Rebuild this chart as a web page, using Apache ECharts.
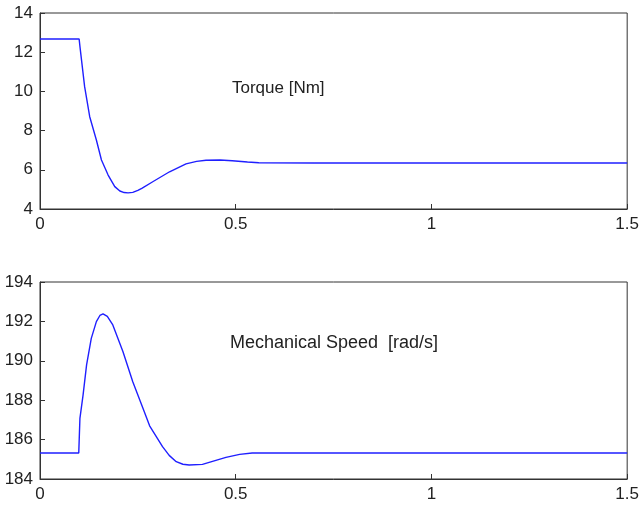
<!DOCTYPE html>
<html>
<head>
<meta charset="utf-8">
<script src="https://cdn.jsdelivr.net/npm/echarts@6/dist/echarts.min.js"></script>
<style>
html, body { margin: 0; padding: 0; background: #fff; }
#main { width: 642px; height: 505px; }
</style>
</head>
<body>
<div id="main"></div>
<script>
// torque response (time s, value Nm)
var torqueT = [0, 0.1, 0.102, 0.114, 0.127, 0.144, 0.157, 0.174, 0.191, 0.204, 0.215, 0.225, 0.237, 0.25, 0.26, 0.288, 0.331, 0.373, 0.4, 0.424, 0.46, 0.491, 0.53, 0.559, 0.7, 1.0, 1.5];
var torqueV = [12.67, 12.67, 12.3, 10.24, 8.71, 7.52, 6.5, 5.73, 5.14, 4.92, 4.84, 4.82, 4.85, 4.95, 5.05, 5.39, 5.9, 6.3, 6.43, 6.49, 6.5, 6.46, 6.4, 6.36, 6.35, 6.35, 6.35];

// mechanical speed (time s, value rad/s)
var speedT = [0, 0.099, 0.102, 0.11, 0.119, 0.131, 0.144, 0.153, 0.161, 0.172, 0.186, 0.212, 0.237, 0.263, 0.28, 0.313, 0.33, 0.348, 0.365, 0.381, 0.415, 0.445, 0.475, 0.51, 0.542, 0.7, 1.0, 1.5];
var speedV = [185.32, 185.32, 187.08, 188.26, 189.79, 191.14, 191.99, 192.3, 192.38, 192.25, 191.82, 190.46, 188.94, 187.59, 186.7, 185.64, 185.2, 184.88, 184.75, 184.71, 184.74, 184.92, 185.1, 185.25, 185.32, 185.32, 185.32, 185.32];

var xTicks = { min: 0, max: 1.5, interval: 0.5 };

function pairs(t, v) {
	var out = [];
	for (var i = 0; i < t.length; i++) out.push([t[i], v[i]]);
	return out;
}

var myChart = echarts.init(document.getElementById('main'));

var labelStyle = { color: '#222', fontSize: 17, fontFamily: 'Liberation Sans, Arial, sans-serif' };
var tick = { show: true, inside: true, length: 5, lineStyle: { color: '#333' } };

function xAxisOf(idx) {
	return {
		type: 'value', gridIndex: idx,
		min: xTicks.min, max: xTicks.max, interval: xTicks.interval,
		axisLine: { show: true, lineStyle: { color: '#333' } },
		axisTick: tick,
		axisLabel: Object.assign({ margin: 7 }, labelStyle),
		splitLine: { show: false }
	};
}
function yAxisOf(idx, lo, hi) {
	return {
		type: 'value', gridIndex: idx,
		min: lo, max: hi, interval: 2,
		axisLine: { show: true, lineStyle: { color: '#333' } },
		axisTick: tick,
		axisLabel: Object.assign({ margin: 7 }, labelStyle),
		splitLine: { show: false }
	};
}

var option = {
	animation: false,
	backgroundColor: '#fff',
	title: [{
		text: 'Torque [Nm]',
		left: 232, top: 80, padding: 0,
		textStyle: { color: '#222', fontSize: 17, fontWeight: 'normal', fontFamily: 'Liberation Sans, Arial, sans-serif' }
	}, {
		text: 'Mechanical Speed  [rad/s]',
		left: 230, top: 334, padding: 0,
		textStyle: { color: '#222', fontSize: 18, fontWeight: 'normal', fontFamily: 'Liberation Sans, Arial, sans-serif' }
	}],
	grid: [
		{ left: 40, right: 12, top: 13, height: 196, show: true, borderColor: '#333', borderWidth: 1 },
		{ left: 40, right: 12, top: 282, height: 197, show: true, borderColor: '#333', borderWidth: 1 }
	],
	xAxis: [xAxisOf(0), xAxisOf(1)],
	yAxis: [yAxisOf(0, 4, 14), yAxisOf(1, 184, 194)],
	series: [{
		name: 'Torque',
		type: 'line',
		xAxisIndex: 0, yAxisIndex: 0,
		showSymbol: false,
		lineStyle: { color: '#1f1fff', width: 1.4 },
		data: pairs(torqueT, torqueV)
	}, {
		name: 'Speed',
		type: 'line',
		xAxisIndex: 1, yAxisIndex: 1,
		showSymbol: false,
		lineStyle: { color: '#1f1fff', width: 1.4 },
		data: pairs(speedT, speedV)
	}]
};
myChart.setOption(option);
</script>
</body>
</html>
